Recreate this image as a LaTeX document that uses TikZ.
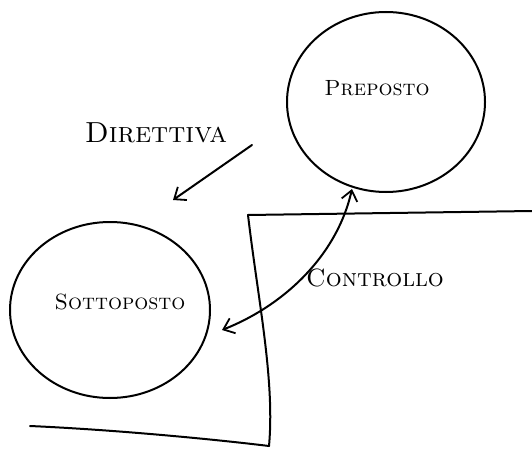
\documentclass[tikz,border=0pt]{standalone}
\usetikzlibrary{arrows.meta,shapes.geometric}
\begin{document}
\begin{tikzpicture}[x=1pt,y=-1pt,
  ink/.style={line width=2pt,line cap=round,line join=round,black},
  blob/.style={ink,draw,ellipse,inner sep=0pt},
  lbl/.style={font=\fontsize{#1}{#1}\selectfont\scshape},
  barb/.tip={Straight Barb[length=10pt,width=16pt,line width=1.8pt]}]
\useasboundingbox (0,0) rectangle (532,449);
% box
\coordinate (bx1) at (248,215);
\coordinate (bx2) at (532,211);
\coordinate (bx3) at (269,446);
\coordinate (bx4) at (30,426);
\draw[ink] (bx2) -- (bx1) .. controls (258,300) and (275,380) .. (bx3);
\draw[ink] (bx4) .. controls (120,430) and (220,440) .. (bx3);
% nodes
\node[blob,minimum width=198pt,minimum height=180pt,fill=white] (pre) at (386,102) {};
\node[lbl=22] (pretext) at (377,88) {Preposto};
\node[blob,minimum width=200pt,minimum height=176pt] (sot) at (110,310) {};
\node[lbl=22] (sottext) at (120,302) {Sottoposto};
\node[lbl=29] (dir) at (156,133) {Direttiva};
\node[lbl=25] (con) at (375,278) {Controllo};
% direttiva arrow
\coordinate (d1) at (252,145);
\coordinate (d2) at (173,200);
\draw[ink,-barb] (d1) -- (d2);
% controllo
\coordinate (c1) at (352,189);
\coordinate (c2) at (222,330);
\draw[ink,barb-barb] (c1) .. controls (337,255) and (285,305) .. (c2);
\end{tikzpicture}
\end{document}
